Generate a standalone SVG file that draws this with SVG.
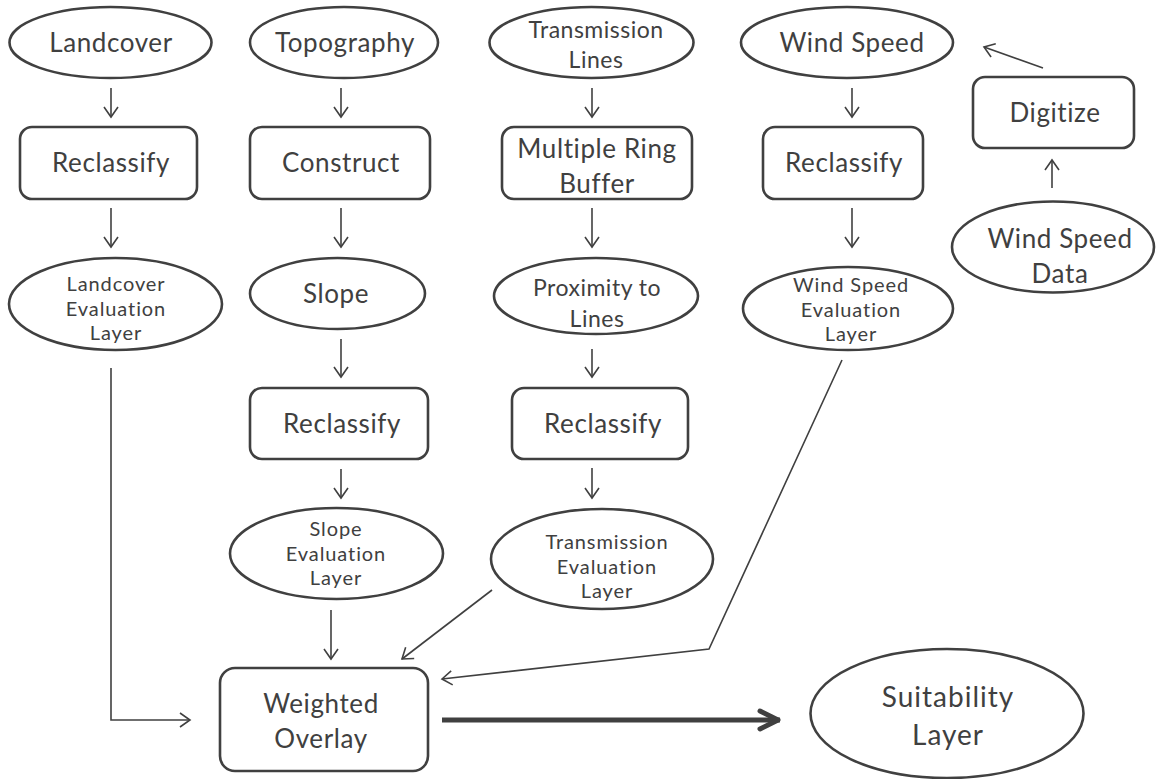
<svg xmlns="http://www.w3.org/2000/svg" width="1157" height="779" viewBox="0 0 1157 779">
<style>
.n{fill:#fff;stroke:#404040;stroke-width:2.6}
.t{font-family:Lato,"Open Sans",sans-serif;fill:#404040;text-anchor:middle}
.l{font-size:26px;letter-spacing:0.6px}
.s{font-size:23px;letter-spacing:0.5px}
.e{font-size:20px;letter-spacing:0.9px}
.x{font-size:28px;letter-spacing:1px}
.c{fill:none;stroke:#404040;stroke-width:1.6}
.k{fill:none;stroke:#404040;stroke-width:5}
</style>
<defs>
<marker id="a" markerUnits="userSpaceOnUse" markerWidth="20" markerHeight="20" viewBox="-12 -10 14 20" refX="0" refY="0" orient="auto">
<path d="M-10,-7 L0,0 L-10,7" fill="none" stroke="#404040" stroke-width="1.6"/>
</marker>
<marker id="b" markerUnits="userSpaceOnUse" markerWidth="30" markerHeight="30" viewBox="-25 -15 30 30" refX="0" refY="0" orient="auto">
<path d="M-20,-9 L-2,0 L-20,9" fill="none" stroke="#404040" stroke-width="5" stroke-linecap="round" stroke-linejoin="round"/>
</marker>
</defs>
<rect width="1157" height="779" fill="#fff"/>
<g id="connectors">
<line class="c" x1="111" y1="88" x2="111" y2="117" marker-end="url(#a)"/>
<line class="c" x1="111" y1="208" x2="111" y2="247" marker-end="url(#a)"/>
<line class="c" x1="341" y1="88" x2="341" y2="117" marker-end="url(#a)"/>
<line class="c" x1="341" y1="208" x2="341" y2="247" marker-end="url(#a)"/>
<line class="c" x1="341" y1="339" x2="341" y2="377" marker-end="url(#a)"/>
<line class="c" x1="341" y1="469" x2="341" y2="498" marker-end="url(#a)"/>
<line class="c" x1="331" y1="610" x2="331" y2="659" marker-end="url(#a)"/>
<line class="c" x1="592" y1="88" x2="592" y2="117" marker-end="url(#a)"/>
<line class="c" x1="592" y1="208" x2="592" y2="247" marker-end="url(#a)"/>
<line class="c" x1="592" y1="349" x2="592" y2="377" marker-end="url(#a)"/>
<line class="c" x1="592" y1="468" x2="592" y2="498" marker-end="url(#a)"/>
<line class="c" x1="492" y1="590" x2="402" y2="659" marker-end="url(#a)"/>
<line class="c" x1="852" y1="88" x2="852" y2="117" marker-end="url(#a)"/>
<line class="c" x1="852" y1="208" x2="852" y2="247" marker-end="url(#a)"/>
<polyline class="c" points="842,360 709,649 442,679" marker-end="url(#a)"/>
<line class="c" x1="1052" y1="188" x2="1052" y2="160" marker-end="url(#a)"/>
<line class="c" x1="1043" y1="68" x2="984" y2="47" marker-end="url(#a)"/>
<polyline class="c" points="111,368 111,720 190,720" marker-end="url(#a)"/>
<line class="k" x1="442" y1="720" x2="780" y2="720" marker-end="url(#b)"/>
</g>
<g id="landcover"><ellipse class="n" cx="110.5" cy="42.5" rx="101" ry="35.5"/><text class="t l" x="111" y="52">Landcover</text></g>
<g id="topography"><ellipse class="n" cx="344" cy="42.5" rx="94" ry="35.5"/><text class="t l" x="345" y="52">Topography</text></g>
<g id="transmission-lines"><ellipse class="n" cx="591.5" cy="42.5" rx="102" ry="35.5"/><text class="t s" x="596" y="38">Transmission<tspan x="596" dy="30">Lines</tspan></text></g>
<g id="wind-speed"><ellipse class="n" cx="847" cy="42.5" rx="106" ry="35.5"/><text class="t l" x="852" y="52">Wind Speed</text></g>
<g id="digitize"><rect class="n" x="973" y="77" width="161" height="71" rx="12"/><text class="t l" x="1055" y="122">Digitize</text></g>
<g id="wind-speed-data"><ellipse class="n" cx="1053" cy="247" rx="101" ry="45.5"/><text class="t l" x="1060" y="248">Wind Speed<tspan x="1060" dy="35">Data</tspan></text></g>
<g id="reclassify-landcover"><rect class="n" x="20" y="127" width="177" height="72" rx="12"/><text class="t l" x="111" y="172">Reclassify</text></g>
<g id="construct"><rect class="n" x="250" y="127" width="180" height="72" rx="12"/><text class="t l" x="341" y="172">Construct</text></g>
<g id="multiple-ring-buffer"><rect class="n" x="502" y="127" width="190" height="72" rx="12"/><text class="t l" x="597" y="158">Multiple Ring<tspan x="597" dy="35">Buffer</tspan></text></g>
<g id="reclassify-wind"><rect class="n" x="763" y="127" width="160" height="72" rx="12"/><text class="t l" x="844" y="172">Reclassify</text></g>
<g id="landcover-eval"><ellipse class="n" cx="115.5" cy="304" rx="106.5" ry="46"/><text class="t e" x="116" y="291">Landcover<tspan x="116" dy="24.5">Evaluation</tspan><tspan x="116" dy="24.5">Layer</tspan></text></g>
<g id="slope"><ellipse class="n" cx="337.5" cy="293.5" rx="87.5" ry="35.5"/><text class="t l" x="336" y="303">Slope</text></g>
<g id="proximity"><ellipse class="n" cx="596" cy="296" rx="102" ry="38"/><text class="t s" x="597" y="296">Proximity to<tspan x="597" dy="31">Lines</tspan></text></g>
<g id="wind-speed-eval"><ellipse class="n" cx="848" cy="308.5" rx="105" ry="41.5"/><text class="t e" x="851" y="292">Wind Speed<tspan x="851" dy="24.5">Evaluation</tspan><tspan x="851" dy="24.5">Layer</tspan></text></g>
<g id="reclassify-slope"><rect class="n" x="250" y="388" width="178" height="71" rx="12"/><text class="t l" x="342" y="433">Reclassify</text></g>
<g id="reclassify-transmission"><rect class="n" x="512" y="388" width="176" height="71" rx="12"/><text class="t l" x="603" y="433">Reclassify</text></g>
<g id="slope-eval"><ellipse class="n" cx="336.5" cy="553.5" rx="106.5" ry="45.5"/><text class="t e" x="336" y="536">Slope<tspan x="336" dy="24.5">Evaluation</tspan><tspan x="336" dy="24.5">Layer</tspan></text></g>
<g id="transmission-eval"><ellipse class="n" cx="602" cy="559" rx="111" ry="50"/><text class="t e" x="607" y="549">Transmission<tspan x="607" dy="24.5">Evaluation</tspan><tspan x="607" dy="24.5">Layer</tspan></text></g>
<g id="weighted-overlay"><rect class="n" x="220" y="668" width="208" height="103" rx="15"/><text class="t l" x="321" y="713">Weighted<tspan x="321" dy="35">Overlay</tspan></text></g>
<g id="suitability-layer"><ellipse class="n" cx="947" cy="713.5" rx="136.5" ry="64.5"/><text class="t x" x="948" y="707">Suitability<tspan x="948" dy="38">Layer</tspan></text></g>
</svg>
